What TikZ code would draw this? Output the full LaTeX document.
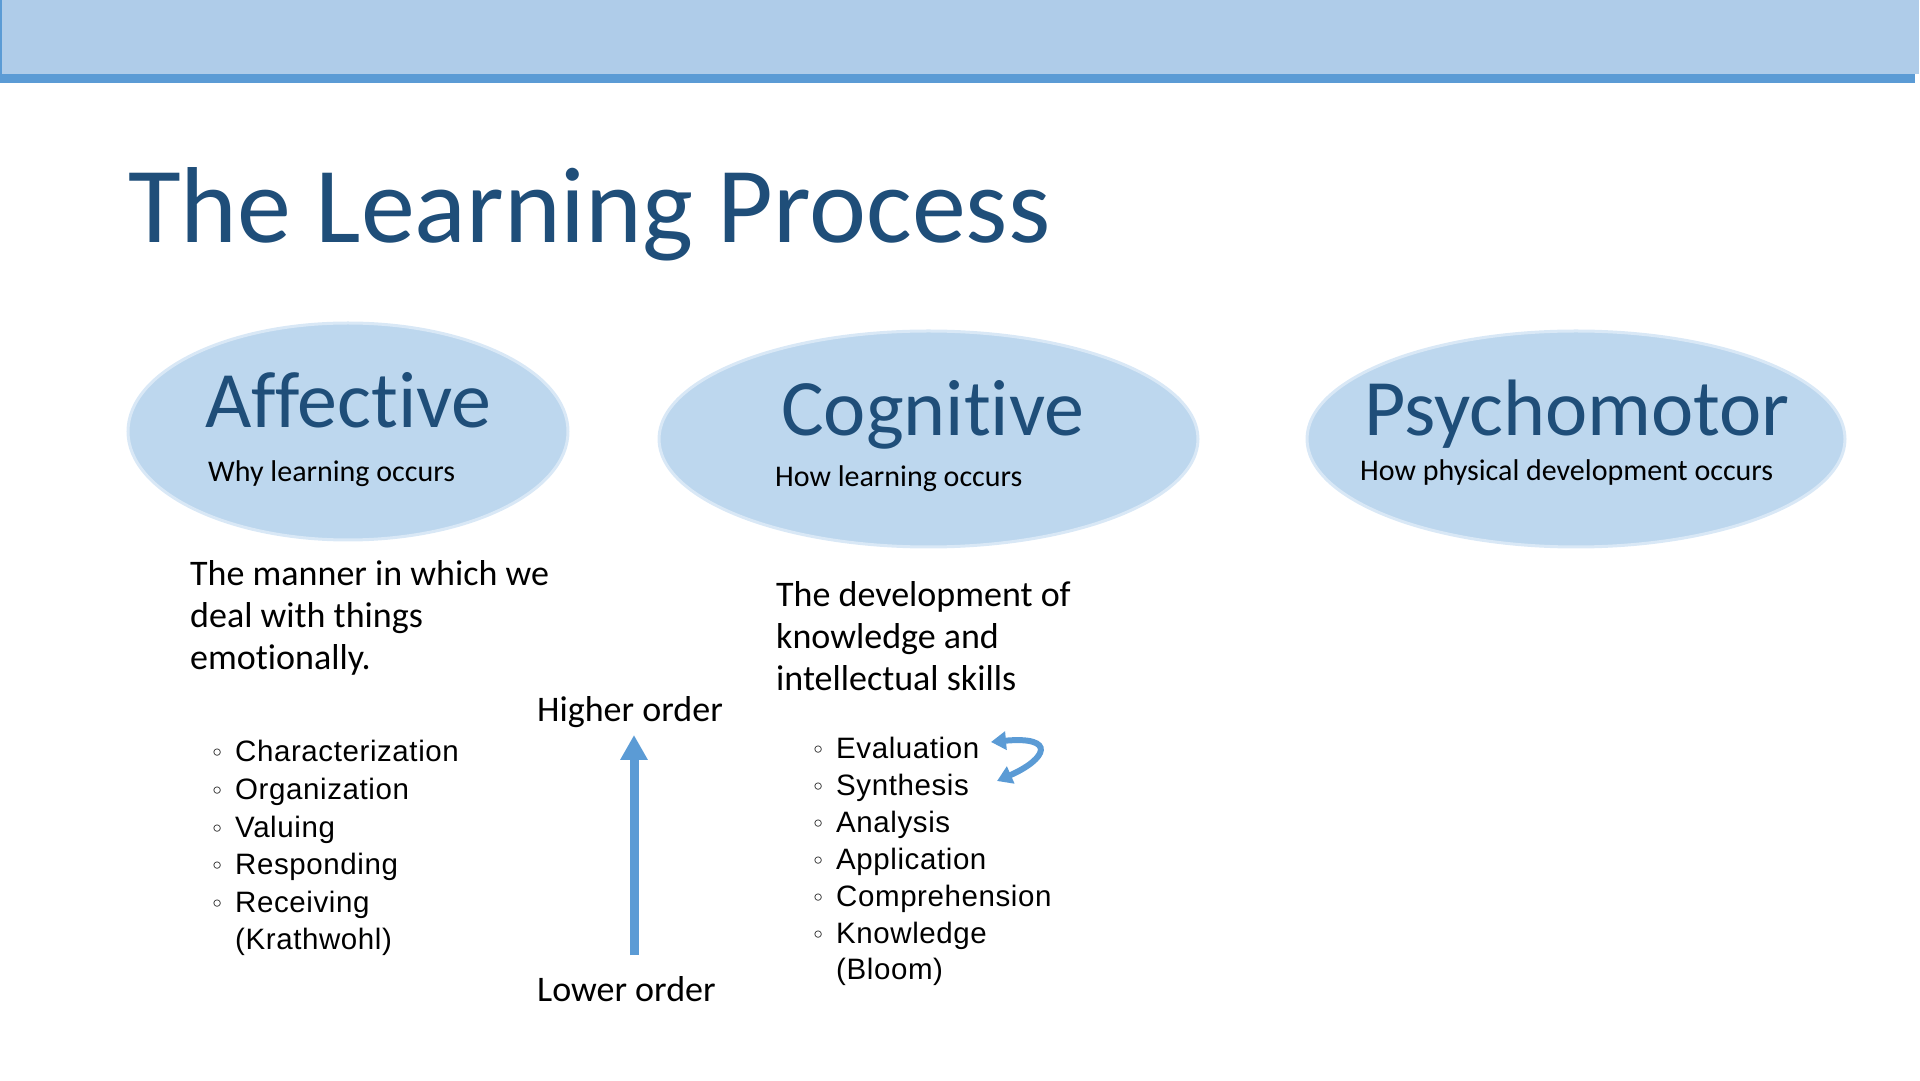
\documentclass[tikz,border=0pt]{standalone}
\usepackage{fontspec}
\setmainfont{Carlito}[Ligatures=NoCommon]
\newfontfamily\arialfont{Liberation Sans}[LetterSpace=2]
\newfontfamily\symfont{DejaVu Sans}
\usetikzlibrary{positioning,arrows.meta,shapes.geometric}
\definecolor{titleblue}{HTML}{1F4E79}
\definecolor{barblue}{HTML}{AFCCE9}
\definecolor{lineblue}{HTML}{5B9BD5}
\definecolor{ovalfill}{HTML}{BDD7EE}
\definecolor{ovaledge}{HTML}{D9E8F6}
\newcommand{\blt}{\llap{{\symfont\fontsize{24}{24}\selectfont ◦}\hspace{11pt}}}
\tikzset{
  oval/.style={ellipse, fill=ovalfill, draw=ovaledge, line width=3pt, inner sep=0pt},
  head/.style={anchor=base west, inner sep=0pt, text=titleblue,
               font=\fontsize{80}{80}\selectfont},
  sub/.style={anchor=base west, inner sep=0pt, font=\fontsize{30}{30}\selectfont},
  body/.style={anchor=base west, inner sep=0pt, font=\fontsize{36}{42}\selectfont},
  item/.style={anchor=base west, inner sep=0pt, font=\arialfont\fontsize{29.5}{30}\selectfont},
  uparr/.style={-{Triangle[length=25pt,width=26pt]}, line width=9pt, draw=lineblue},
  swaparr/.style={{Triangle[length=15pt,width=18pt]}-{Triangle[length=15pt,width=18pt]},
                  line width=6pt, draw=lineblue},
}

\begin{document}
\begin{tikzpicture}[x=1pt,y=1pt]
  \useasboundingbox (0,0) rectangle (1920,1080);
  % header band
  \fill[barblue] (0,1006) rectangle (1919,1080);
  \fill[lineblue] (0,997) rectangle (1915,1006);
  \draw[lineblue, line width=1.5pt] (0.75,1006) -- (0.75,1080);

  \node[anchor=base west, inner sep=0pt, text=titleblue, font=\fontsize{108}{108}\selectfont]
    (title) at (128,837) {The Learning Process};

  % the three domains
  \node[oval, minimum width=440pt, minimum height=217pt] (aff) at (348,648.5) {};
  \node[oval, minimum width=539pt, minimum height=216pt] (cog) at (928.5,641) {};
  \node[oval, minimum width=538pt, minimum height=216pt] (psy) at (1576,641) {};

  \node[head] (affh) at (205,652) {Affective};
  \node[sub]  (affs) at (208,598) {Why learning occurs};
  \node[head] (cogh) at (781,644) {Cognitive};
  \node[sub]  (cogs) at (775,593) {How learning occurs};
  \node[head] (psyh) at (1364,644) {Psychomotor};
  \node[sub]  (psys) at (1360,599) {How physical development occurs};

  % descriptions
  \foreach \ln [count=\i from 0] in {The manner in which we, deal with things, emotionally.}
    \node[body] (affd\i) at (190,494-42*\i) {\ln};
  \foreach \ln [count=\i from 0] in {The development of, knowledge and, intellectual skills}
    \node[body] (cogd\i) at (776,473-42*\i) {\ln};

  % Krathwohl list
  \foreach \ln [count=\i from 0] in {Characterization,Organization,Valuing,Responding,Receiving}
    \node[item] (affl\i) at (235,318-37.5*\i) {\blt\ln};
  \node[item] (krath) at (235,130.5) {(Krathwohl)};

  % order arrow
  \node[body] (hi) at (537,358) {Higher order};
  \node[body] (lo) at (537,79) {Lower order};
  \coordinate (ordlo) at (634,125);
  \coordinate (ordhi) at (634,345);
  \draw[uparr] (ordlo) -- (ordhi);

  % Bloom list
  \foreach \ln [count=\i from 0] in {Evaluation,Synthesis,Analysis,Application,Comprehension,Knowledge}
    \node[item] (cogl\i) at (836,321-36.8*\i) {\blt\ln};
  \node[item] (bloom) at (836,100.2) {(Bloom)};

  \coordinate (swapa) at (991,338);
  \coordinate (swapb) at (997,299);
  \draw[swaparr] (swapa) .. controls (1057,344) and (1047,321) .. (swapb);
\end{tikzpicture}
\end{document}
